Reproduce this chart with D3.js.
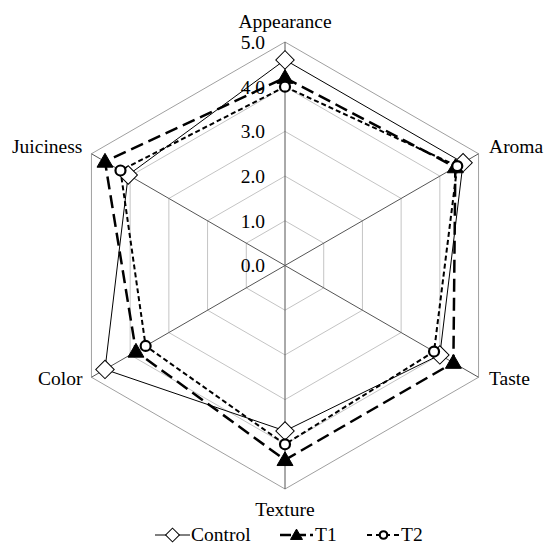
<!DOCTYPE html>
<html>
<head>
<meta charset="utf-8">
<script src="https://cdn.jsdelivr.net/npm/d3@7"></script>
<style>
  html, body { margin: 0; padding: 0; background: #fff; }
  svg { display: block; }
  text { font-family: "Liberation Serif", "Times New Roman", serif; fill: #000; }
</style>
</head>
<body>
<svg id="chart" width="545" height="545"></svg>
<script>
// ---- data ----
const categories = ["Appearance", "Aroma", "Taste", "Texture", "Color", "Juiciness"];
const seriesNames = ["Control", "T1", "T2"];
const controlValues = [4.6, 4.6, 4.0, 3.7, 4.65, 4.05];
const t1Values      = [4.2, 4.4, 4.35, 4.35, 3.85, 4.65];
const t2Values      = [4.0, 4.45, 3.85, 4.0, 3.6, 4.25];
const tickValues = [0, 1, 2, 3, 4, 5];
const tickLabels = ["0.0", "1.0", "2.0", "3.0", "4.0", "5.0"];

// ---- layout ----
const svg = d3.select("#chart");
const cx = 285, cy = 265.5, R = 223.5;
const fontSize = 19.5;
const r = d3.scaleLinear().domain([0, 5]).range([0, R]);
const n = categories.length;
const angle = i => -Math.PI / 2 + i * 2 * Math.PI / n;
const pt = (i, v) => [cx + r(v) * Math.cos(angle(i)), cy + r(v) * Math.sin(angle(i))];

const g = svg.append("g");

// grid hexagons
tickValues.slice(1).forEach(t => {
  const pts = d3.range(n).map(i => pt(i, t));
  g.append("path")
    .attr("d", d3.line()(pts) + "Z")
    .attr("fill", "none")
    .attr("stroke", t === 5 ? "#a0a0a0" : "#c4c4c4")
    .attr("stroke-width", 1);
});

// spokes
d3.range(n).forEach(i => {
  const [x, y] = pt(i, 5);
  g.append("line")
    .attr("x1", cx).attr("y1", cy).attr("x2", x).attr("y2", y)
    .attr("stroke", "#555").attr("stroke-width", 1);
});

// tick labels
tickValues.forEach((t, k) => {
  g.append("text")
    .attr("x", cx - 20)
    .attr("y", cy - r(t))
    .attr("dy", "0.35em")
    .attr("text-anchor", "end")
    .attr("font-size", fontSize)
    .text(tickLabels[k]);
});

// category labels
categories.forEach((c, i) => {
  const [x, y] = pt(i, 5);
  const ca = Math.cos(angle(i)), sa = Math.sin(angle(i));
  let tx = x, ty = y, anchor = "middle";
  if (Math.abs(ca) < 0.01) {
    ty = sa < 0 ? y - 14 : y + 27;
  } else {
    anchor = ca > 0 ? "start" : "end";
    tx = x + (ca > 0 ? 10.5 : -9);
    ty = sa < 0 ? y - 1 : y + 8;
  }
  g.append("text")
    .attr("x", tx).attr("y", ty)
    .attr("text-anchor", anchor)
    .attr("font-size", fontSize)
    .text(c);
});

// series
const styles = [
  { values: controlValues, dash: null, width: 1, marker: "diamond" },
  { values: t1Values, dash: "13,6", width: 2.5, marker: "triangle" },
  { values: t2Values, dash: "5,3", width: 2, marker: "circle" }
];

function drawMarker(sel, type, x, y, scale) {
  const s = scale || 1;
  if (type === "diamond") {
    sel.append("path")
      .attr("d", d3.symbol().type(d3.symbolSquare).size(170 * s * s)())
      .attr("transform", `translate(${x},${y}) rotate(45)`)
      .attr("fill", "#fff").attr("stroke", "#000").attr("stroke-width", 1);
  } else if (type === "triangle") {
    sel.append("path")
      .attr("d", d3.symbol().type(d3.symbolTriangle).size(110 * s * s)())
      .attr("transform", `translate(${x},${y + 1})`)
      .attr("fill", "#000").attr("stroke", "#000").attr("stroke-width", 1);
  } else {
    sel.append("circle")
      .attr("cx", x).attr("cy", y).attr("r", 5 * s)
      .attr("fill", "#fff").attr("stroke", "#000").attr("stroke-width", 2.2);
  }
}

styles.forEach(s => {
  const pts = s.values.map((v, i) => pt(i, v));
  g.append("path")
    .attr("d", d3.line()(pts) + "Z")
    .attr("fill", "none")
    .attr("stroke", "#000")
    .attr("stroke-width", s.width)
    .attr("stroke-dasharray", s.dash);
});
styles.forEach(s => {
  s.values.forEach((v, i) => {
    const [x, y] = pt(i, v);
    drawMarker(g, s.marker, x, y);
  });
});

// legend
const legendY = 535;
const legendItems = [
  { x0: 155, x1: 190, tx: 191 },
  { x0: 280, x1: 313, tx: 315 },
  { x0: 367, x1: 400, tx: 401 }
];
legendItems.forEach((it, k) => {
  const s = styles[k];
  const lg = svg.append("g");
  lg.append("line")
    .attr("x1", it.x0).attr("x2", it.x1)
    .attr("y1", legendY).attr("y2", legendY)
    .attr("stroke", "#000")
    .attr("stroke-width", s.width)
    .attr("stroke-dasharray", k === 0 ? null : (k === 1 ? "11,4" : "5,4"));
  drawMarker(lg, s.marker, (it.x0 + it.x1) / 2, legendY, 0.75);
  lg.append("text")
    .attr("x", it.tx).attr("y", legendY + 6)
    .attr("font-size", fontSize)
    .text(seriesNames[k]);
});
</script>
</body>
</html>
